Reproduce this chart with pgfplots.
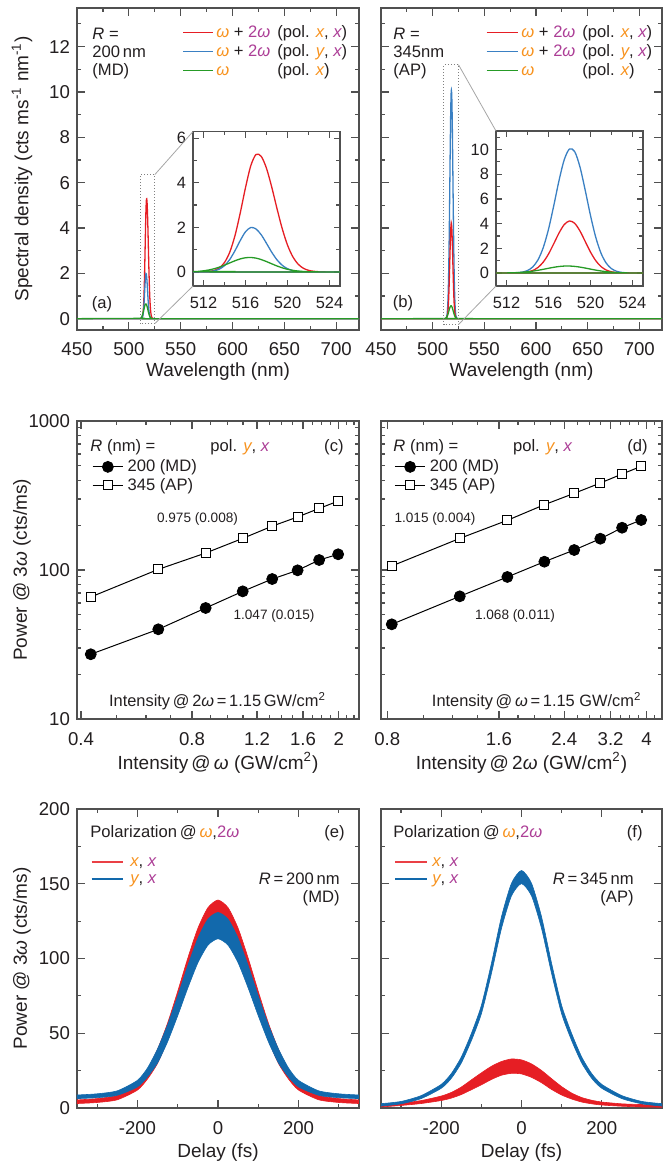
\documentclass[border=0pt]{standalone}
\usepackage{fontspec}
\setmainfont{Liberation Sans}
\usepackage{pgfplots}
\usepackage{pgfplotstable}
\pgfplotsset{compat=1.18}

\definecolor{cred}{RGB}{230,30,36}
\definecolor{cblueA}{RGB}{58,128,195}
\definecolor{cgreen}{RGB}{38,155,38}
\definecolor{cblueE}{RGB}{18,105,172}
\definecolor{corange}{RGB}{247,146,30}
\definecolor{cpurple}{RGB}{172,62,150}
\definecolor{cframe}{RGB}{80,80,80}
\definecolor{ctext}{RGB}{35,31,32}

\newcommand\om{{\color{corange}\itshape ω}}
\newcommand\tom{{\color{cpurple}2{\itshape ω}}}
\newcommand\xo{{\color{corange}\itshape x}}
\newcommand\xp{{\color{cpurple}\itshape x}}
\newcommand\yo{{\color{corange}\itshape y}}
\newcommand\fL{\fontsize{8.3}{9}\selectfont}
\newcommand\fS{\fontsize{6.8}{8}\selectfont}
\newcommand\fM{\fontsize{8.2}{9}\selectfont}

\pgfplotstableread{
x r b g
450 0 0 0
511 0.000 0.000 0.014
511.5 0.002 0.001 0.028
512 0.006 0.004 0.051
512.5 0.022 0.016 0.089
513 0.066 0.048 0.143
513.5 0.178 0.125 0.216
514 0.424 0.284 0.306
514.5 0.887 0.560 0.405
515 1.634 0.956 0.503
515.5 2.650 1.411 0.585
516 3.785 1.803 0.637
516.5 4.759 1.994 0.649
517 5.270 1.929 0.620
517.5 5.183 1.665 0.555
518 4.646 1.283 0.465
518.5 3.802 0.883 0.365
519 2.840 0.543 0.268
519.5 1.937 0.298 0.185
520 1.206 0.146 0.119
520.5 0.685 0.064 0.072
521 0.356 0.025 0.041
521.5 0.168 0.009 0.022
522 0.073 0.003 0.011
522.5 0.029 0.001 0.005
523 0.010 0.000 0.002
523.5 0.003 0.000 0.001
524 0.001 0.000 0.000
525 0.000 0.000 0.000
722 0 0 0
}\TA

\pgfplotstableread{
x r b g
450 0 0 0
511 0.000 0.000 0.002
511.5 0.000 0.000 0.005
512 0.001 0.002 0.010
512.5 0.003 0.007 0.019
513 0.009 0.025 0.036
513.5 0.029 0.076 0.062
514 0.083 0.205 0.100
514.5 0.205 0.495 0.154
515 0.453 1.069 0.222
515.5 0.887 2.061 0.302
516 1.540 3.547 0.386
516.5 2.372 5.454 0.465
517 3.240 7.487 0.528
517.5 3.925 9.179 0.564
518 4.217 10.049 0.567
518.5 4.020 9.824 0.537
519 3.398 8.577 0.479
519.5 2.548 6.686 0.403
520 1.695 4.655 0.318
520.5 1.000 2.894 0.237
521 0.523 1.607 0.166
521.5 0.243 0.797 0.110
522 0.100 0.353 0.068
522.5 0.037 0.139 0.040
523 0.012 0.049 0.022
523.5 0.003 0.016 0.011
524 0.001 0.004 0.006
524.5 0.000 0.001 0.003
525 0.000 0.000 0.001
722 0 0 0
}\TB

\pgfplotsset{
 myax/.style={
  scale only axis, anchor=north west,
  axis line style={cframe, line width=0.75pt},
  tick style={cframe, line width=0.6pt},
  major tick length=3.8pt, minor tick length=2pt,
  tick align=inside,
  tick label style={font=\fontsize{9.3}{11}\selectfont, text=ctext},
  label style={font=\fontsize{9.5}{11}\selectfont, text=ctext},
  /pgf/number format/assume math mode=true,
 },
 inax/.style={
  axis background/.style={fill=white},
  tick label style={font=\fontsize{8.2}{10}\selectfont},
  xticklabel style={yshift=-1.8pt},
  major tick length=3pt, minor tick length=1.8pt,
  axis line style={line width=0.65pt},
  xmin=511, xmax=525, xtick={512,516,520,524}, minor xtick={514,518,522},
 },
 lgc/.style={
  legend cell align=left,
  legend style={draw=none, fill=none, anchor=north west, font=\fL, inner sep=0pt, row sep=0.8pt,
   nodes={inner sep=0.5pt, text=ctext}, /tikz/every odd column/.append style={column sep=1.5pt}},
  legend image code/.code={\draw[mark repeat=2, mark phase=2, ##1] plot coordinates {(0pt,0pt) (7.65pt,0pt) (15.3pt,0pt)};},
 },
 mdp/.style={black, line width=0.5pt, mark=*, mark size=2.75pt, mark options={fill=black, line width=0.4pt}},
 app/.style={black, line width=0.5pt, mark=square*, mark size=2.25pt, mark options={fill=white, line width=0.5pt}},
 bandr/.style={fill=cred, draw=cred, line width=0.3pt, smooth, tension=0.4},
 bandb/.style={fill=cblueE, draw=cblueE, line width=0.3pt, smooth, tension=0.4},
}

\begin{document}
\begin{tikzpicture}
\useasboundingbox (0pt,0pt) rectangle (335pt,-581.5pt);

% ---------- (a) ----------
\begin{axis}[myax, name=A, at={(38.5pt,-4pt)}, width=141pt, height=161pt,
 xmin=450, xmax=722, ymin=-0.5, ymax=13.7,
 xtick={450,500,...,700}, minor xtick={475,525,...,700},
 ytick={0,2,...,12}, minor ytick={1,3,...,13},
 xticklabel style={yshift=-2.6pt},
 xlabel={Wavelength (nm)},
 ylabel={Spectral density (cts ms\textsuperscript{-1} nm\textsuperscript{-1})},
 xlabel style={at={(axis description cs:0.5,-0.13)}, anchor=center},
 ylabel style={at={(axis description cs:-0.195,0.5)}, anchor=center}]
\addplot[cred, line width=0.65pt, smooth] table[x=x,y=r]{\TA};
\addplot[cblueA, line width=0.65pt, smooth] table[x=x,y=b]{\TA};
\addplot[cgreen, line width=0.65pt, smooth] table[x=x,y=g]{\TA};
\draw[gray, densely dotted, line width=0.5pt] (axis cs:511,-0.22) rectangle (axis cs:525,6.35);
\coordinate (ra1) at (axis cs:525,6.35);
\coordinate (ra2) at (axis cs:525,-0.22);
\end{axis}

\begin{axis}[myax, inax, name=IA, at={(96.5pt,-65.75pt)}, width=73.5pt, height=77.25pt,
 ymin=-0.63, ymax=6.3, ytick={0,2,4,6}, minor ytick={1,3,5}]
\addplot[cred, line width=0.65pt, smooth] table[x=x,y=r]{\TA};
\addplot[cblueA, line width=0.65pt, smooth] table[x=x,y=b]{\TA};
\addplot[cgreen, line width=0.65pt, smooth] table[x=x,y=g]{\TA};
\end{axis}

% ---------- (b) ----------
\begin{axis}[myax, name=B, at={(190.5pt,-4pt)}, width=140.5pt, height=161pt,
 xmin=450, xmax=722, ymin=-0.5, ymax=13.7,
 xtick={450,500,...,700}, minor xtick={475,525,...,700},
 ytick={0,2,...,12}, minor ytick={1,3,...,13}, yticklabels={},
 xticklabel style={yshift=-2.6pt},
 xlabel={Wavelength (nm)},
 xlabel style={at={(axis description cs:0.5,-0.13)}, anchor=center}]
\addplot[cblueA, line width=0.65pt, smooth] table[x=x,y=b]{\TB};
\addplot[cred, line width=0.65pt, smooth] table[x=x,y=r]{\TB};
\addplot[cgreen, line width=0.65pt, smooth] table[x=x,y=g]{\TB};
\draw[gray, densely dotted, line width=0.5pt] (axis cs:510.7,-0.26) rectangle (axis cs:525,11.2);
\coordinate (rb1) at (axis cs:525,11.2);
\coordinate (rb2) at (axis cs:525,-0.26);
\end{axis}

\begin{axis}[myax, inax, name=IB, at={(248pt,-65.5pt)}, width=73.5pt, height=77.5pt,
 ymin=-1.05, ymax=11.5, ytick={0,2,...,10}, minor ytick={1,3,...,11}]
\addplot[cblueA, line width=0.65pt, smooth] table[x=x,y=b]{\TB};
\addplot[cred, line width=0.65pt, smooth] table[x=x,y=r]{\TB};
\addplot[cgreen, line width=0.65pt, smooth] table[x=x,y=g]{\TB};
\end{axis}

% ---------- (c) ----------
\begin{axis}[myax, lgc, name=C, at={(38.5pt,-210.5pt)}, width=141pt, height=149pt,
 xmode=log, ymode=log, xmin=0.39, xmax=2.27, ymin=10, ymax=1000,
 xtick={0.4,0.8,1.2,1.6,2}, xticklabels={0.4,0.8,1.2,1.6,2},
 minor xtick={0.5,0.6,0.7,0.9,1.0,1.1,1.3,1.4,1.5,1.7,1.8,1.9,2.1,2.2},
 ytick={10,100,1000}, yticklabels={10,100,1000},
 minor ytick={20,30,40,50,60,70,80,90,200,300,400,500,600,700,800,900},
 xticklabel style={yshift=-3.4pt},
 xlabel={Intensity\,@\,{\itshape ω} (GW/cm\textsuperscript{2})},
 ylabel={Power @ 3{\itshape ω} (cts/ms)},
 xlabel style={at={(axis description cs:0.5,-0.148)}, anchor=center},
 ylabel style={at={(axis description cs:-0.195,0.5)}, anchor=center},
 legend style={at={(axis description cs:0.052,0.876)}}]
\addplot[mdp] coordinates {(0.425,27.2) (0.648,40.0) (0.871,55.6) (1.098,71.9) (1.320,87.0) (1.547,99.5) (1.770,116.7) (1.993,127.5)};
\addlegendentry{200 (MD)}
\addplot[app] coordinates {(0.425,65.9) (0.648,101) (0.871,130) (1.098,163) (1.320,197) (1.547,227) (1.770,259) (1.993,290)};
\addlegendentry{345 (AP)}
\end{axis}

% ---------- (d) ----------
\begin{axis}[myax, lgc, name=D, at={(190.5pt,-210.5pt)}, width=140.5pt, height=149pt,
 xmode=log, ymode=log, xmin=0.77, xmax=4.4, ymin=10, ymax=1000,
 xtick={0.8,1.6,2.4,3.2,4}, xticklabels={0.8,1.6,2.4,3.2,4},
 minor xtick={1.0,1.2,1.4,1.8,2.0,2.2,2.6,2.8,3.0,3.4,3.6,3.8,4.2},
 ytick={10,100,1000}, yticklabels={},
 minor ytick={20,30,40,50,60,70,80,90,200,300,400,500,600,700,800,900},
 xticklabel style={yshift=-3.4pt},
 xlabel={Intensity\,@\,2{\itshape ω} (GW/cm\textsuperscript{2})},
 xlabel style={at={(axis description cs:0.5,-0.148)}, anchor=center},
 legend style={at={(axis description cs:0.046,0.876)}}]
\addplot[mdp] coordinates {(0.823,43.2) (1.255,66.6) (1.686,89.8) (2.121,113.7) (2.552,136.2) (3.001,162.2) (3.435,192.2) (3.867,216.6)};
\addlegendentry{200 (MD)}
\addplot[app] coordinates {(0.823,106.4) (1.255,163) (1.686,215.6) (2.121,274.4) (2.552,327) (3.001,383.5) (3.435,440.8) (3.867,496.5)};
\addlegendentry{345 (AP)}
\end{axis}

% ---------- (e) ----------
\begin{axis}[myax, name=E, at={(38.5pt,-404.5pt)}, width=141pt, height=149.5pt,
 xmin=-350, xmax=350, ymin=0, ymax=200,
 xtick={-200,0,200}, minor xtick={-300,-100,100,300},
 ytick={0,50,...,200}, minor ytick={25,75,...,175},
 xticklabel style={yshift=-3pt},
 xlabel={Delay (fs)}, ylabel={Power @ 3{\itshape ω} (cts/ms)},
 xlabel style={at={(axis description cs:0.5,-0.15)}, anchor=center},
 ylabel style={at={(axis description cs:-0.195,0.5)}, anchor=center}]
\addplot[bandr] coordinates {(-360,5.4) (-350,5.4) (-300,6.3) (-250,8.5) (-200,16.4) (-175,25.4) (-150,39.3) (-125,56.9) (-100,78.0) (-75,100.2) (-50,120.2) (-25,134.0) (0,139.1) (25,134.0) (50,120.2) (75,100.2) (100,78.0) (125,56.9) (150,39.3) (175,25.4) (200,16.4) (250,8.5) (300,6.3) (350,5.4) (360,5.4)
 (360,3.0) (350,3.0) (300,3.7) (250,5.5) (200,12.0) (175,19.4) (150,29.9) (125,45.5) (100,64.4) (75,84.8) (50,103.2) (25,116.2) (0,120.9) (-25,116.2) (-50,103.2) (-75,84.8) (-100,64.4) (-125,45.5) (-150,29.9) (-175,19.4) (-200,12.0) (-250,5.5) (-300,3.7) (-350,3.0) (-360,3.0)};
\addplot[bandb] coordinates {(-360,8.7) (-350,8.7) (-300,9.5) (-250,11.5) (-200,18.5) (-175,26.8) (-150,39.6) (-125,55.8) (-100,74.9) (-75,95.2) (-50,113.5) (-25,126.3) (0,130.8) (25,126.3) (50,113.5) (75,95.2) (100,74.9) (125,55.8) (150,39.6) (175,26.8) (200,18.5) (250,11.5) (300,9.5) (350,8.7) (360,8.7)
 (360,6.3) (350,6.3) (300,6.9) (250,8.5) (200,14.1) (175,20.8) (150,30.2) (125,44.4) (100,61.7) (75,80.2) (50,97.1) (25,108.9) (0,113.2) (-25,108.9) (-50,97.1) (-75,80.2) (-100,61.7) (-125,44.4) (-150,30.2) (-175,20.8) (-200,14.1) (-250,8.5) (-300,6.9) (-350,6.3) (-360,6.3)};
\end{axis}

% ---------- (f) ----------
\begin{axis}[myax, name=F, at={(190.5pt,-404.5pt)}, width=140.5pt, height=149.5pt,
 xmin=-350, xmax=350, ymin=0, ymax=200,
 xtick={-200,0,200}, minor xtick={-300,-100,100,300},
 ytick={0,50,...,200}, minor ytick={25,75,...,175}, yticklabels={},
 xticklabel style={yshift=-3pt},
 xlabel={Delay (fs)},
 xlabel style={at={(axis description cs:0.5,-0.15)}, anchor=center}]
\addplot[bandr] coordinates {(-360,2.3) (-350,2.3) (-300,3.3) (-250,5.0) (-200,8.0) (-175,10.4) (-150,14.0) (-125,18.8) (-100,23.5) (-75,27.9) (-50,31.1) (-25,32.8) (0,32.2) (25,29.5) (50,25.1) (75,19.6) (100,14.3) (125,10.0) (150,7.0) (175,5.2) (200,4.0) (250,2.8) (300,2.3) (350,2.1) (360,2.1)
 (360,0.5) (350,0.5) (300,0.7) (250,1.2) (200,2.0) (175,2.8) (150,4.0) (125,6.0) (100,8.7) (75,12.4) (50,16.9) (25,20.5) (0,22.8) (-25,23.2) (-50,21.9) (-75,19.1) (-100,15.5) (-125,12.2) (-150,9.0) (-175,6.6) (-200,5.0) (-250,3.0) (-300,1.7) (-350,0.7) (-360,0.7)};
\addplot[bandb] coordinates {(-360,2.9) (-350,2.9) (-300,4.4) (-250,8.3) (-200,15.8) (-175,23.0) (-150,34.1) (-125,49.8) (-100,68.6) (-75,96.7) (-50,127.8) (-25,150.3) (0,158.9) (25,150.3) (50,127.8) (75,96.7) (100,68.6) (125,49.8) (150,34.1) (175,23.0) (200,15.8) (250,8.3) (300,4.4) (350,2.9) (360,2.9)
 (360,1.3) (350,1.3) (300,2.8) (250,6.3) (200,13.2) (175,19.8) (150,30.1) (125,45.0) (100,63.0) (75,89.9) (50,120.0) (25,141.9) (0,150.1) (-25,141.9) (-50,120.0) (-75,89.9) (-100,63.0) (-125,45.0) (-150,30.1) (-175,19.8) (-200,13.2) (-250,6.3) (-300,2.8) (-350,1.3) (-360,1.3)};
\end{axis}

% ---------- annotations (pixel coordinates) ----------
\begin{scope}[x=0.5pt, y=-0.5pt, every node/.style={inner sep=0pt, text=ctext, font=\fL}]
\draw[gray!70, line width=0.4pt] (ra1) -- (IA.north west) (ra2) -- (IA.south west);
\draw[gray!70, line width=0.4pt] (rb1) -- (IB.north west) (rb2) -- (IB.south west);
% (a)
\node[anchor=base west] at (92,39) {{\itshape R} =};
\node[anchor=base west] at (92,57.3) {200\,nm};
\node[anchor=base west] at (92,75.7) {(MD)};
\draw[cred, line width=0.65pt] (183,32.3) -- (213,32.3);
\node[anchor=base west] at (216,37.3) {\makebox[30.5pt][l]{\om{} + \tom}(pol. \xo, \xp)};
\draw[cblueA, line width=0.65pt] (183,51.7) -- (213,51.7);
\node[anchor=base west] at (216,56.7) {\makebox[30.5pt][l]{\om{} + \tom}(pol. \yo, \xp)};
\draw[cgreen, line width=0.65pt] (183,70.7) -- (213,70.7);
\node[anchor=base west] at (216,75.7) {\makebox[30.5pt][l]{\om}(pol. \xo)};
\node at (102,304) {(a)};
% (b)
\node[anchor=base west] at (393,39) {{\itshape R} =};
\node[anchor=base west] at (393,57.3) {345nm};
\node[anchor=base west] at (393,75.7) {(AP)};
\draw[cred, line width=0.65pt] (486.7,32.3) -- (518.3,32.3);
\node[anchor=base west] at (521,37.3) {\makebox[30.5pt][l]{\om{} + \tom}(pol. \xo, \xp)};
\draw[cblueA, line width=0.65pt] (486.7,51.7) -- (518.3,51.7);
\node[anchor=base west] at (521,56.7) {\makebox[30.5pt][l]{\om{} + \tom}(pol. \yo, \xp)};
\draw[cgreen, line width=0.65pt] (486.7,70.7) -- (518.3,70.7);
\node[anchor=base west] at (521,75.7) {\makebox[30.5pt][l]{\om}(pol. \xo)};
\node at (403,303) {(b)};
% (c)
\node[anchor=base west] at (90,451) {{\itshape R} (nm) =};
\node[anchor=base west] at (210,451) {pol. \yo, \xp};
\node[anchor=base east] at (344,451) {(c)};
\node[font=\fS] at (197.5,519) {0.975 (0.008)};
\node[font=\fS] at (274,616) {1.047 (0.015)};
\node[font=\fM] at (217.5,701) {Intensity\,@\,2{\itshape ω}\,=\,1.15\,GW/cm\textsuperscript{2}};
% (d)
\node[anchor=base west] at (393,451) {{\itshape R} (nm) =};
\node[anchor=base west] at (512.7,451) {pol. \yo, \xp};
\node[anchor=base east] at (648,451) {(d)};
\node[font=\fS] at (435,519) {1.015 (0.004)};
\node[font=\fS] at (515,616) {1.068 (0.011)};
\node[font=\fM] at (536.7,701) {Intensity\,@\,{\itshape ω}\,=\,1.15 GW/cm\textsuperscript{2}};
% (e)
\node[anchor=base west] at (90,837.7) {Polarization\,@\,\om,\tom};
\node[anchor=base east] at (345,837.7) {(e)};
\draw[cred!85, line width=0.9pt] (91.7,861.7) -- (123.3,861.7);
\node[anchor=base west] at (130,866) {\xo, \xp};
\draw[cblueE, line width=0.9pt] (91.7,879) -- (123.3,879);
\node[anchor=base west] at (130,883.3) {\yo, \xp};
\node[anchor=base east] at (340,884) {{\itshape R}\,=\,200\,nm};
\node[anchor=base east] at (340,902.3) {(MD)};
% (f)
\node[anchor=base west] at (393,837.7) {Polarization\,@\,\om,\tom};
\node[anchor=base east] at (643,837.7) {(f)};
\draw[cred!85, line width=0.9pt] (395,861.7) -- (427,861.7);
\node[anchor=base west] at (432,866) {\xo, \xp};
\draw[cblueE, line width=0.9pt] (395,879) -- (427,879);
\node[anchor=base west] at (432,883.3) {\yo, \xp};
\node[anchor=base east] at (634,884) {{\itshape R}\,=\,345\,nm};
\node[anchor=base east] at (634,902.3) {(AP)};
\end{scope}
\end{tikzpicture}
\end{document}
